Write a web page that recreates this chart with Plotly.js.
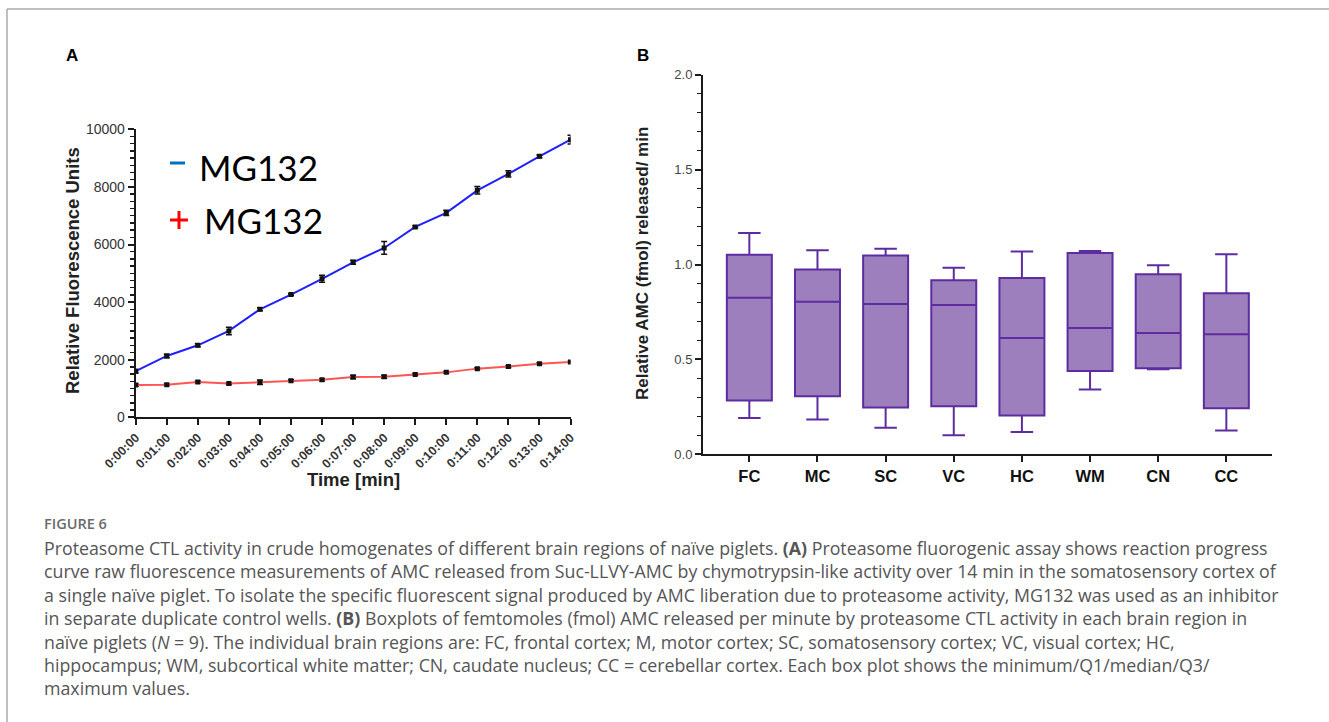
<!DOCTYPE html>
<html>
<head>
<meta charset="utf-8">
<script src="https://cdn.plot.ly/plotly-3.0.1.min.js"></script>
<style>html,body{margin:0;padding:0;background:#fff;}#chart{width:1329px;height:722px;}</style>
</head>
<body>
<div id="chart"></div>
<script>
// ---- Panel A data ----
const timeLabels = ["0:00:00","0:01:00","0:02:00","0:03:00","0:04:00","0:05:00","0:06:00","0:07:00","0:08:00","0:09:00","0:10:00","0:11:00","0:12:00","0:13:00","0:14:00"];
const noInhibitor = [1600,2130,2500,3000,3750,4260,4810,5380,5880,6610,7100,7880,8450,9060,9640];
const noInhibitorErr = [60,60,50,130,50,30,120,70,220,40,90,130,110,50,150];
const withInhibitor = [1120,1130,1230,1170,1215,1270,1300,1400,1410,1490,1560,1690,1760,1860,1920];
const withInhibitorErr = [40,30,30,30,80,30,30,60,50,30,30,30,30,30,30];
const yTicksA = [0,2000,4000,6000,8000,10000];

// ---- Panel B data ----
const regions = ["FC","MC","SC","VC","HC","WM","CN","CC"];
const minVals = [0.191,0.184,0.140,0.100,0.118,0.342,0.448,0.125];
const q1Vals  = [0.284,0.306,0.246,0.253,0.205,0.439,0.453,0.242];
const medVals = [0.825,0.804,0.792,0.787,0.613,0.666,0.639,0.632];
const q3Vals  = [1.052,0.973,1.047,0.917,0.929,1.061,0.948,0.848];
const maxVals = [1.166,1.075,1.083,0.983,1.069,1.071,0.996,1.054];
const yTicksB = [0,0.5,1.0,1.5,2.0];

// ---- Caption ----
const figLabel = "FIGURE 6";
const captionLines = [
 "Proteasome CTL activity in crude homogenates of different brain regions of naïve piglets. <b>(A)</b> Proteasome fluorogenic assay shows reaction progress",
 "curve raw fluorescence measurements of AMC released from Suc-LLVY-AMC by chymotrypsin-like activity over 14 min in the somatosensory cortex of",
 "a single naïve piglet. To isolate the specific fluorescent signal produced by AMC liberation due to proteasome activity, MG132 was used as an inhibitor",
 "in separate duplicate control wells. <b>(B)</b> Boxplots of femtomoles (fmol) AMC released per minute by proteasome CTL activity in each brain region in",
 "naïve piglets (<i>N</i> = 9). The individual brain regions are: FC, frontal cortex; M, motor cortex; SC, somatosensory cortex; VC, visual cortex; HC,",
 "hippocampus; WM, subcortical white matter; CN, caudate nucleus; CC = cerebellar cortex. Each box plot shows the minimum/Q1/median/Q3/",
 "maximum values."
];

const W = 1329, H = 722;
const px = x => x / W;
const py = y => (H - y) / H;

const traces = [
 {
  type: 'scatter', mode: 'lines+markers', x: timeLabels, y: noInhibitor,
  xaxis: 'x', yaxis: 'y', name: '- MG132',
  line: {color: '#1f1fff', width: 2},
  marker: {color: '#111', size: 5, symbol: 'square'},
  error_y: {type: 'data', array: noInhibitorErr, visible: true, color: '#111', thickness: 1.5, width: 3}
 },
 {
  type: 'scatter', mode: 'lines+markers', x: timeLabels, y: withInhibitor,
  xaxis: 'x', yaxis: 'y', name: '+ MG132',
  line: {color: '#ff5555', width: 2},
  marker: {color: '#111', size: 5, symbol: 'square'},
  error_y: {type: 'data', array: withInhibitorErr, visible: true, color: '#111', thickness: 1.5, width: 3}
 },
 {
  type: 'box', x: regions, q1: q1Vals, median: medVals, q3: q3Vals,
  lowerfence: minVals, upperfence: maxVals,
  xaxis: 'x2', yaxis: 'y2', boxpoints: false,
  fillcolor: '#9d7fbd', line: {color: '#5c2ca0', width: 2},
  width: 0.66, whiskerwidth: 0.5, hoverinfo: 'skip'
 }
];

const axisCommon = {
 showline: true, linecolor: '#1a1a1a', linewidth: 2, ticks: 'outside', ticklen: 6,
 tickwidth: 2, tickcolor: '#1a1a1a', showgrid: false, zeroline: false, fixedrange: true
};

function note(text, x, y, font, extra) {
 return Object.assign({text: text, x: px(x), y: py(y), xref: 'paper', yref: 'paper', showarrow: false,
  xanchor: 'center', yanchor: 'middle', font: font}, extra || {});
}
const boldArial = (s, c) => ({family: 'Liberation Sans, Arial', size: s, color: c || '#222'});

const annotations = [
 note('<b>A</b>', 72, 55, boldArial(17, '#000')),
 note('<b>B</b>', 643, 55, boldArial(17, '#000')),
 note('<b>Relative Fluorescence Units</b>', 72, 271, boldArial(18.5), {textangle: -90}),
 note('<b>Time [min]</b>', 353, 479, boldArial(18.5)),
 note('<b>Relative AMC (fmol) released/ min</b>', 643, 264, boldArial(17), {textangle: -90}),
 note('MG132', 197, 167, {family: 'Lato, Open Sans', size: 35, color: '#000'}, {xanchor: 'left'}),
 note('MG132', 202, 220, {family: 'Lato, Open Sans', size: 35, color: '#000'}, {xanchor: 'left'}),
 note(figLabel, 42, 523, {family: 'Open Sans', size: 14.5, color: '#6a6a6a', weight: 600}, {xanchor: 'left'})
];
captionLines.forEach((t, i) => {
 annotations.push(note(t, 42, 548 + i * 23.4, {family: 'Open Sans', size: 17.8, color: '#555'}, {xanchor: 'left'}));
});

const shapes = [
 {type: 'line', xref: 'paper', yref: 'paper', x0: px(7), x1: 1, y0: py(9), y1: py(9), line: {color: '#aaaaaa', width: 1.5}},
 {type: 'line', xref: 'paper', yref: 'paper', x0: px(7), x1: px(7), y0: py(9), y1: 0, line: {color: '#aaaaaa', width: 1.5}},
 // legend glyphs
 {type: 'line', xref: 'paper', yref: 'paper', x0: px(170), x1: px(185), y0: py(163), y1: py(163), line: {color: '#0070c0', width: 3}},
 {type: 'line', xref: 'paper', yref: 'paper', x0: px(170), x1: px(188), y0: py(220), y1: py(220), line: {color: '#ff0000', width: 3}},
 {type: 'line', xref: 'paper', yref: 'paper', x0: px(179), x1: px(179), y0: py(211), y1: py(229), line: {color: '#ff0000', width: 3}}
];

const layout = {
 width: W, height: H, margin: {l: 0, r: 0, t: 0, b: 0},
 paper_bgcolor: '#fff', plot_bgcolor: 'rgba(0,0,0,0)', showlegend: false,
 font: {family: 'Liberation Sans, Arial', color: '#333'},
 xaxis: Object.assign({}, axisCommon, {
  domain: [px(135.7), px(570.5)], anchor: 'y', type: 'category', range: [0, 14],
  tickangle: -45, tickfont: {size: 12.5, color: '#333', weight: 700}
 }),
 yaxis: Object.assign({}, axisCommon, {
  domain: [py(417.3), py(129.3)], anchor: 'x', range: [0, 10000], tickvals: yTicksA, tickformat: 'd',
  tickfont: {size: 14, color: '#333'},
  minor: {dtick: 250, ticks: 'outside', ticklen: 4, tickwidth: 1.5, tickcolor: '#1a1a1a'}
 }),
 xaxis2: Object.assign({}, axisCommon, {
  domain: [px(703), px(1272)], anchor: 'y2', type: 'category', range: [-0.68, 7.67],
  tickfont: {size: 16.5, color: '#111', weight: 700}
 }),
 yaxis2: Object.assign({}, axisCommon, {
  domain: [py(454.3), py(74.7)], anchor: 'x2', range: [0, 2], tickvals: yTicksB, tickformat: '.1f',
  tickfont: {size: 13, color: '#444'},
  minor: {dtick: 0.1, ticks: 'outside', ticklen: 4, tickwidth: 1.5, tickcolor: '#1a1a1a'}
 }),
 annotations: annotations,
 shapes: shapes
};

Plotly.newPlot('chart', traces, layout, {staticPlot: true, displayModeBar: false});
</script>
</body>
</html>
